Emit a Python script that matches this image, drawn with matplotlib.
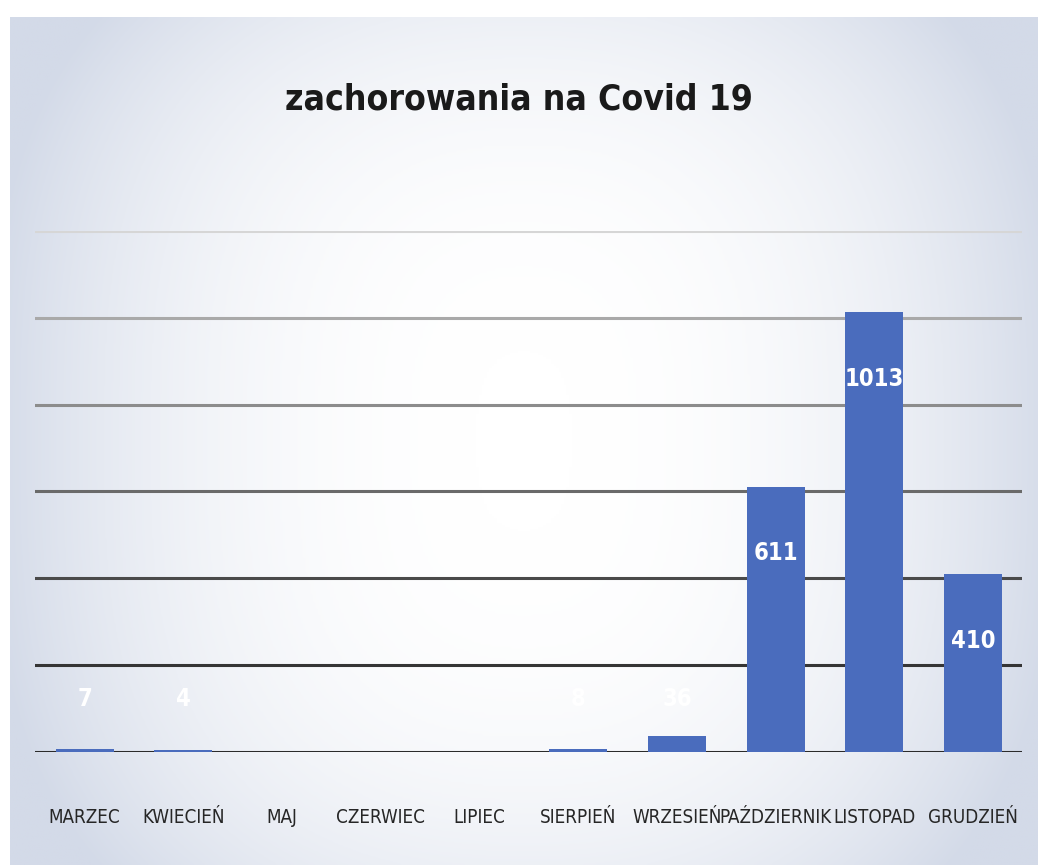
import numpy as np
import matplotlib.pyplot as plt
from matplotlib.colors import LinearSegmentedColormap

months = ["MARZEC", "KWIECIEŃ", "MAJ", "CZERWIEC", "LIPIEC",
          "SIERPIEŃ", "WRZESIEŃ", "PAŹDZIERNIK", "LISTOPAD", "GRUDZIEŃ"]
cases = [7, 4, 0, 0, 0, 8, 36, 611, 1013, 410]
yticks = [0, 200, 400, 600, 800, 1000, 1200]
# scanned image: grid lines fade out towards the top
grid_colors = ["#2b2b2b", "#353535", "#4a4a4a", "#6a6a6a", "#8c8c8c", "#a9a9a9", "#d6d6d6"]

font = ["DejaVu Sans"]
bar_color = "#4a6cbd"

fig = plt.figure(figsize=(10.38, 8.65), dpi=100)

# background panel with light vignette
bg = fig.add_axes([0, 0, 1, 1], zorder=-10)
xx, yy = np.meshgrid(np.linspace(-1, 1, 400), np.linspace(-1, 1, 400))
shade = np.clip(np.abs(xx) ** 2.3 * 0.9 + np.abs(yy) ** 3 * 0.4, 0, 1)
cmap = LinearSegmentedColormap.from_list("bg", ["#ffffff", "#d3dae8"])
bg.imshow(shade, cmap=cmap, extent=[0.01, 1.0, 0.0, 0.98], aspect="auto",
          vmin=0, vmax=1, interpolation="bilinear")
bg.set_xlim(0, 1)
bg.set_ylim(0, 1)
bg.axis("off")

ax = fig.add_axes([0.034, 0.1306, 0.951, 0.6024])
ax.set_facecolor("none")
x = np.arange(len(months))
ax.bar(x, cases, width=0.59, color=bar_color, zorder=3)

for yv, c in zip(yticks, grid_colors):
    ax.axhline(yv, color=c, lw=2.2, zorder=2)

for xi, v in zip(x, cases):
    if v == 0:
        continue
    if v > 100:
        ax.annotate(str(v), (xi, v), xytext=(0, -48), textcoords="offset points",
                    ha="center", va="center", color="white", fontsize=17,
                    fontweight="bold", family=font, fontstretch="condensed", zorder=4)
    else:
        ax.annotate(str(v), (xi, 0), xytext=(0, 38), textcoords="offset points",
                    ha="center", va="center", color="white", fontsize=17,
                    fontweight="bold", family=font, fontstretch="condensed", zorder=4)

ax.set_xlim(-0.5, len(months) - 0.5)
ax.set_ylim(0, 1200)
ax.set_xticks(x)
ax.set_xticklabels(months, family=font, fontstretch="condensed", fontsize=13.5,
                   color="#262626")
ax.tick_params(axis="x", length=0, pad=40)
ax.set_yticks([])
for s in ax.spines.values():
    s.set_visible(False)

fig.text(0.5, 0.885, "zachorowania na Covid 19", ha="center", va="center",
         family=font, fontstretch="condensed", fontsize=25.5, fontweight="bold",
         color="#1a1a1a")

fig.savefig("out.png", dpi=100)
